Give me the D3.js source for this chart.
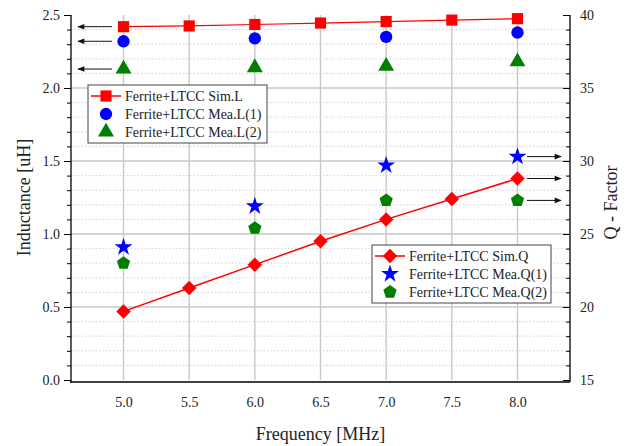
<!DOCTYPE html>
<html>
<head>
<meta charset="utf-8">
<script src="https://cdn.jsdelivr.net/npm/d3@7"></script>
<style>
  body { margin: 0; background: #fff; }
  svg text { font-family: "Liberation Serif", "Times New Roman", serif; fill: #222; }
</style>
</head>
<body>
<svg id="chart" width="627" height="446"></svg>
<script>
"use strict";

// data
const freqSim = [5.0, 5.5, 6.0, 6.5, 7.0, 7.5, 8.0];
const freqMea = [5.0, 6.0, 7.0, 8.0];
const simL = [2.42, 2.425, 2.435, 2.445, 2.455, 2.465, 2.475];
const meaL1 = [2.32, 2.34, 2.35, 2.38];
const meaL2 = [2.13, 2.14, 2.15, 2.18];
const simQ = [19.7, 21.3, 22.9, 24.5, 26.0, 27.4, 28.8];
const meaQ1 = [24.1, 26.9, 29.7, 30.3];
const meaQ2 = [23.0, 25.4, 27.3, 27.3];
const xTicks = [5.0, 5.5, 6.0, 6.5, 7.0, 7.5, 8.0];
const lTicks = [0.0, 0.5, 1.0, 1.5, 2.0, 2.5];
const qTicks = [15, 20, 25, 30, 35, 40];

const pL = 71, pR = 570, pT = 15, pB = 380;

const svg = d3.select("#chart");

const x = d3.scaleLinear().domain([4.6, 8.4]).range([pL, pR]);
const yL = d3.scaleLinear().domain([0, 2.5]).range([pB, pT]);
const yQ = d3.scaleLinear().domain([15, 40]).range([pB, pT]);

// pentagon symbol
const pentagon = {
  draw(ctx, size) {
    const r = Math.sqrt(size / 2.378);
    for (let i = 0; i < 5; i++) {
      const a = -Math.PI / 2 + i * 2 * Math.PI / 5;
      const px = r * Math.cos(a), py = r * Math.sin(a);
      if (i === 0) ctx.moveTo(px, py); else ctx.lineTo(px, py);
    }
    ctx.closePath();
  }
};

const minorL = d3.range(0.1, 2.5, 0.1).filter(v => Math.abs(v * 2 - Math.round(v * 2)) > 0.01);

// grid
const grid = svg.append("g");
grid.selectAll(".minor")
  .data(minorL)
  .enter().append("line")
  .attr("x1", pL).attr("x2", pR)
  .attr("y1", d => yL(d)).attr("y2", d => yL(d))
  .attr("stroke", "#c8c8c8").attr("stroke-width", 0.8).attr("stroke-dasharray", "1.5,2");
grid.selectAll(".hmajor")
  .data(lTicks.slice(1, -1))
  .enter().append("line")
  .attr("x1", pL).attr("x2", pR)
  .attr("y1", d => yL(d)).attr("y2", d => yL(d))
  .attr("stroke", "#c8c8c8").attr("stroke-width", 1.4);
grid.selectAll(".vmajor")
  .data(xTicks)
  .enter().append("line")
  .attr("x1", d => x(d)).attr("x2", d => x(d))
  .attr("y1", pT).attr("y2", pB)
  .attr("stroke", "#c8c8c8").attr("stroke-width", 1.4);

// axes
svg.append("g")
  .attr("transform", `translate(${pL},0)`)
  .call(d3.axisLeft(yL).tickValues(lTicks).tickFormat(d3.format(".1f")).tickSize(7).tickPadding(4))
  .call(g => g.select(".domain").attr("stroke-width", 1.3).attr("d", `M0,${pT}V${pB + 2}`));
svg.append("g")
  .attr("transform", `translate(${pL},0)`)
  .call(d3.axisLeft(yL).tickValues(minorL).tickFormat("").tickSize(4))
  .call(g => g.select(".domain").remove());

svg.append("g")
  .attr("transform", `translate(${pR},0)`)
  .call(d3.axisRight(yQ).tickValues(qTicks).tickSize(-7).tickPadding(10))
  .call(g => g.select(".domain").attr("stroke-width", 1.3).attr("d", `M0,${pT}V${pB + 2}`));
svg.append("g")
  .attr("transform", `translate(${pR},0)`)
  .call(d3.axisRight(yQ).tickValues(d3.range(16, 40).filter(v => v % 5 !== 0)).tickFormat("").tickSize(-4))
  .call(g => g.select(".domain").remove());

svg.append("g")
  .attr("transform", `translate(0,${pB + 2})`)
  .call(d3.axisBottom(x).tickValues(xTicks).tickFormat(d3.format(".1f")).tickSize(0).tickPadding(15))
  .call(g => g.select(".domain").attr("stroke-width", 1.3).attr("d", `M${pL - 1},0H${pR}`));

svg.selectAll(".tick text").attr("font-size", 14).attr("font-family", "Liberation Serif");

// axis titles
svg.append("text")
  .attr("transform", `translate(30,${(pT + pB) / 2}) rotate(-90)`)
  .attr("text-anchor", "middle").attr("font-size", 18).text("Inductance [uH]");
svg.append("text")
  .attr("transform", `translate(617,${(pT + pB) / 2 + 5}) rotate(-90)`)
  .attr("text-anchor", "middle").attr("font-size", 18).text("Q - Factor");
svg.append("text")
  .attr("x", (pL + pR) / 2).attr("y", 440)
  .attr("text-anchor", "middle").attr("font-size", 18).text("Frequency [MHz]");

// arrows
const defs = svg.append("defs");
defs.append("marker").attr("id", "ah").attr("viewBox", "0 0 10 10")
  .attr("refX", 9).attr("refY", 5).attr("markerWidth", 9).attr("markerHeight", 7)
  .attr("markerUnits", "userSpaceOnUse").attr("orient", "auto")
  .append("path").attr("d", "M0,1L10,5L0,9Z").attr("fill", "#111");

const leftArrows = [simL[0], meaL1[0], meaL2[0]];
svg.selectAll(".la").data(leftArrows).enter().append("line")
  .attr("x1", 112).attr("x2", 78)
  .attr("y1", d => yL(d)).attr("y2", d => yL(d))
  .attr("stroke", "#111").attr("stroke-width", 1).attr("marker-end", "url(#ah)");
const rightArrows = [meaQ1[3], simQ[6], meaQ2[3]];
svg.selectAll(".ra").data(rightArrows).enter().append("line")
  .attr("x1", 527).attr("x2", 561)
  .attr("y1", d => yQ(d)).attr("y2", d => yQ(d))
  .attr("stroke", "#111").attr("stroke-width", 1).attr("marker-end", "url(#ah)");

// series
const red = "#ff0000", blue = "#0000ff", green = "#007f00";
const sym = (type, size) => d3.symbol().type(type).size(size)();

const lineL = d3.line().x((d, i) => x(freqSim[i])).y(d => yL(d));
const lineQ = d3.line().x((d, i) => x(freqSim[i])).y(d => yQ(d));
svg.append("path").attr("d", lineL(simL)).attr("fill", "none").attr("stroke", red).attr("stroke-width", 1.2);
svg.append("path").attr("d", lineQ(simQ)).attr("fill", "none").attr("stroke", red).attr("stroke-width", 1.5);

function points(vals, xs, yScale, type, size, color, rot) {
  svg.append("g").selectAll("path").data(vals).enter().append("path")
    .attr("transform", (d, i) => `translate(${x(xs[i])},${yScale(d)}) rotate(${rot || 0})`)
    .attr("d", sym(type, size)).attr("fill", color);
}
points(simL, freqSim, yL, d3.symbolSquare, 125, red);
points(meaL1, freqMea, yL, d3.symbolCircle, 120, blue);
points(meaL2, freqMea, yL, d3.symbolTriangle, 110, green);
points(simQ, freqSim, yQ, d3.symbolSquare, 105, red, 45);
points(meaQ1, freqMea, yQ, d3.symbolStar, 100, blue);
points(meaQ2, freqMea, yQ, pentagon, 115, green);

// legends
function legend(x0, y0, w, items) {
  const g = svg.append("g");
  g.append("rect").attr("x", x0).attr("y", y0).attr("width", w).attr("height", items.length * 18 + 4)
    .attr("fill", "#fff").attr("stroke", "#444").attr("stroke-width", 1);
  items.forEach((it, i) => {
    const cy = y0 + 11 + i * 18;
    if (it.line) g.append("line").attr("x1", x0 + 3).attr("x2", x0 + 33).attr("y1", cy).attr("y2", cy)
      .attr("stroke", it.color).attr("stroke-width", 1.5);
    g.append("path").attr("transform", `translate(${x0 + 18},${cy}) rotate(${it.rot || 0})`)
      .attr("d", sym(it.type, it.size)).attr("fill", it.color);
    g.append("text").attr("x", x0 + 37).attr("y", cy + 5).attr("font-size", 14).text(it.label);
  });
}
legend(88, 85, 179, [
  {label: "Ferrite+LTCC Sim.L", type: d3.symbolSquare, size: 125, color: red, line: true},
  {label: "Ferrite+LTCC Mea.L(1)", type: d3.symbolCircle, size: 120, color: blue},
  {label: "Ferrite+LTCC Mea.L(2)", type: d3.symbolTriangle, size: 110, color: green}
]);
legend(372, 245, 179, [
  {label: "Ferrite+LTCC Sim.Q", type: d3.symbolSquare, size: 105, color: red, line: true, rot: 45},
  {label: "Ferrite+LTCC Mea.Q(1)", type: d3.symbolStar, size: 100, color: blue},
  {label: "Ferrite+LTCC Mea.Q(2)", type: pentagon, size: 115, color: green}
]);
</script>
</body>
</html>
